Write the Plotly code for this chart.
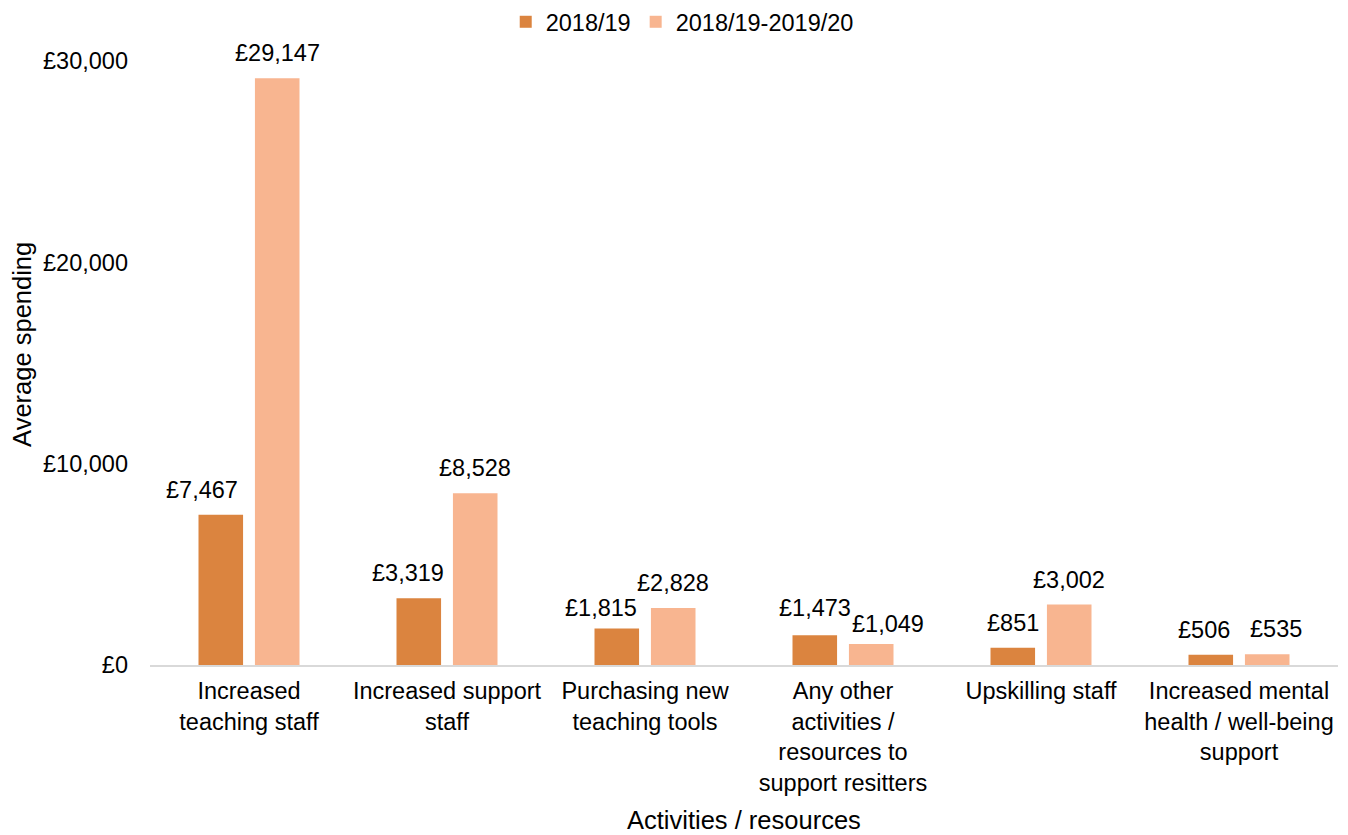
import plotly.graph_objects as go

# Spending by activity / resource
categories = [
    "Increased<br>teaching staff",
    "Increased support<br>staff",
    "Purchasing new<br>teaching tools",
    "Any other<br>activities /<br>resources to<br>support resitters",
    "Upskilling staff",
    "Increased mental<br>health / well-being<br>support",
]
series_names = ["2018/19", "2018/19-2019/20"]
values_1819 = [7467, 3319, 1815, 1473, 851, 506]
values_1820 = [29147, 8528, 2828, 1049, 3002, 535]

y_ticks = [0, 10000, 20000, 30000]

# Styling
colors = ["#DB843F", "#F8B590"]
font_family = "Liberation Sans, Arial, sans-serif"
tick_size = 23.5
title_size = 25.5
bargap = 0.43
bargroupgap = 0.21

# Small nudges (px) for the value labels so they do not crowd each other
label_dx = [[-19, -11, -16, 0, 0, -7], [0, 0, 0, 17, 0, 9]]
label_dy = [[0, 0, -5, 2, 0, 0], [0, 0, 0, -5, 0, 0]]

fig = go.Figure()
for name, vals, col in zip(series_names, [values_1819, values_1820], colors):
    fig.add_trace(go.Bar(
        x=list(range(len(categories))), y=vals, name=name,
        marker=dict(color=col, line=dict(width=0)),
        hoverinfo="x+y",
    ))

# Value labels above each bar, positioned from the bar geometry
slot = (1 - bargap) / 2
for s, vals in enumerate([values_1819, values_1820]):
    offset = (s - 0.5) * slot
    for i, v in enumerate(vals):
        fig.add_annotation(
            x=i + offset, y=v, xref="x", yref="y",
            text=f"£{v:,}", showarrow=False,
            xanchor="center", yanchor="bottom",
            xshift=label_dx[s][i], yshift=10 + label_dy[s][i],
            font=dict(family=font_family, size=tick_size, color="#000000"),
        )

# Axis titles
fig.add_annotation(
    text="Average spending", xref="paper", yref="paper",
    x=0, y=0.53, xshift=-128, textangle=-90, showarrow=False,
    xanchor="center", yanchor="middle",
    font=dict(family=font_family, size=title_size, color="#000000"),
)
fig.add_annotation(
    text="Activities / resources", xref="paper", yref="paper",
    x=0.5, y=-155 / 604, showarrow=False, xanchor="center", yanchor="middle",
    font=dict(family=font_family, size=title_size, color="#000000"),
)

fig.update_layout(
    width=1348, height=835,
    margin=dict(l=150, r=10, t=61, b=170, autoexpand=False),
    paper_bgcolor="white", plot_bgcolor="white",
    barmode="group", bargap=bargap, bargroupgap=bargroupgap,
    font=dict(family=font_family, size=tick_size, color="#000000"),
    showlegend=True,
    legend=dict(
        orientation="h", x=0.448, xanchor="center",
        yref="container", y=1 - 22 / 835, yanchor="middle",
        font=dict(family=font_family, size=tick_size, color="#000000"),
        itemwidth=30, traceorder="normal",
    ),
    xaxis=dict(
        tickmode="array", tickvals=list(range(len(categories))),
        ticktext=categories, range=[-0.5, len(categories) - 0.5],
        showline=True, linecolor="#D9D9D9", linewidth=2,
        showgrid=False, zeroline=False, ticks="",
        ticklabelstandoff=4,
        tickfont=dict(family=font_family, size=tick_size, color="#000000"),
    ),
    yaxis=dict(
        range=[0, 30000], tickvals=y_ticks,
        ticktext=[f"£{t:,}" for t in y_ticks],
        showgrid=False, zeroline=False, showline=False, ticks="",
        ticklabelstandoff=21,
        tickfont=dict(family=font_family, size=tick_size, color="#000000"),
    ),
)

fig.write_html("out.html")
